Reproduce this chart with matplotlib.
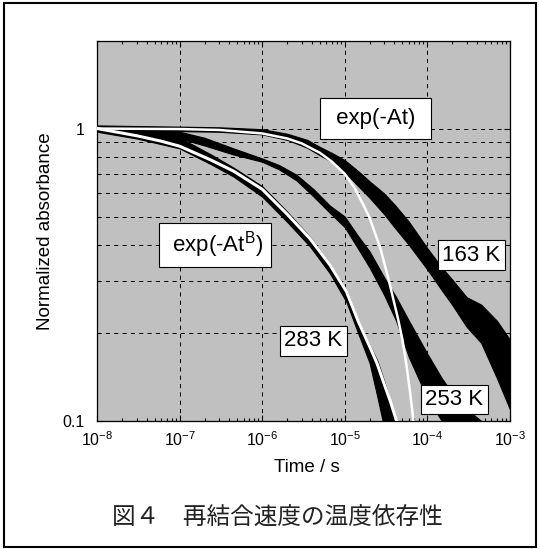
import matplotlib
matplotlib.use('Agg')
import matplotlib.pyplot as plt
from matplotlib.patches import Rectangle
from matplotlib.ticker import NullFormatter, LogLocator

plt.rcParams['font.family'] = ['Liberation Sans', 'DejaVu Sans']
plt.rcParams['mathtext.fontset'] = 'custom'
plt.rcParams['mathtext.rm'] = 'Liberation Sans'
plt.rcParams['mathtext.it'] = 'Liberation Sans:italic'
plt.rcParams['mathtext.default'] = 'regular'
plt.rcParams['axes.unicode_minus'] = False
plt.rcParams['lines.scale_dashes'] = False

t163 = [1e-8, 3e-8, 1e-7, 3e-7, 1e-6, 2e-6, 3.5e-6, 5e-6, 7e-6, 1e-5, 1.5e-5, 2e-5,
        3e-5, 4e-5, 6e-5, 1e-4, 1.5e-4, 2e-4, 3e-4, 4.5e-4, 7e-4, 1e-3]
lo163 = [0.985, 0.985, 0.98, 0.975, 0.955, 0.915, 0.86, 0.81, 0.77, 0.71, 0.63, 0.58,
         0.51, 0.46, 0.40, 0.33, 0.28, 0.25, 0.21, 0.185, 0.14, 0.11]
hi163 = [1.025, 1.02, 1.015, 1.01, 0.995, 0.96, 0.915, 0.865, 0.825, 0.78, 0.71, 0.66,
         0.60, 0.55, 0.48, 0.39, 0.335, 0.305, 0.265, 0.25, 0.22, 0.19]

t253 = [1e-8, 3e-8, 1e-7, 2e-7, 4.5e-7, 1e-6, 1.6e-6, 2.6e-6, 4.2e-6, 6.6e-6, 1e-5,
        1.4e-5, 2e-5, 3e-5, 4.2e-5, 6e-5, 1e-4, 1.5e-4, 2e-4, 3e-4, 4.5e-4]
lo253 = [0.985, 0.965, 0.925, 0.875, 0.815, 0.77, 0.725, 0.665, 0.585, 0.515, 0.46,
         0.395, 0.335, 0.27, 0.22, 0.165, 0.12, 0.10, 0.085, 0.08, 0.08]
hi253 = [1.015, 1.0, 0.975, 0.93, 0.855, 0.79, 0.75, 0.695, 0.62, 0.545, 0.50,
         0.435, 0.38, 0.31, 0.265, 0.22, 0.17, 0.14, 0.125, 0.11, 0.10]

t283 = [1e-8, 3e-8, 1e-7, 2.4e-7, 4.5e-7, 1e-6, 2e-6, 3.8e-6, 6.6e-6, 1.05e-5,
        1.45e-5, 2e-5, 2.5e-5, 3e-5, 3.6e-5, 4.3e-5]
lo283 = [0.975, 0.925, 0.855, 0.755, 0.685, 0.585, 0.48, 0.395, 0.32, 0.255,
         0.20, 0.158, 0.12, 0.095, 0.08, 0.08]
hi283 = [1.015, 0.985, 0.93, 0.815, 0.735, 0.635, 0.52, 0.425, 0.345, 0.28,
         0.222, 0.182, 0.16, 0.137, 0.116, 0.10]

# white fit curves
t_exp = [1e-8, 1e-7, 3e-7, 1e-6, 2e-6, 3e-6, 5e-6, 7e-6, 1e-5, 1.3e-5, 1.7e-5, 2e-5,
         2.7e-5, 3.4e-5, 4.4e-5, 5e-5, 5.6e-5, 6.2e-5, 6.8e-5]
y_exp = [1.0, 0.996, 0.989, 0.962, 0.925, 0.89, 0.826, 0.77, 0.70, 0.63, 0.545, 0.495,
         0.39, 0.305, 0.225, 0.19, 0.155, 0.125, 0.10]

t_str = [1e-8, 3e-8, 6e-8, 1e-7, 2.4e-7, 4.5e-7, 1e-6, 2e-6, 3.8e-6, 6.6e-6, 1.05e-5,
         1.45e-5, 2e-5, 2.45e-5, 3e-5, 3.6e-5, 4.25e-5]
y_str = [1.0, 0.945, 0.905, 0.87, 0.78, 0.715, 0.62, 0.51, 0.42, 0.342, 0.277,
         0.22, 0.18, 0.158, 0.134, 0.116, 0.10]

xticks = [1e-8, 1e-7, 1e-6, 1e-5, 1e-4, 1e-3]
xlabels = ['10$^{%d}$' % e for e in range(-8, -2)]
yticks = [0.1, 1]
ylabels = ['0.1', '1']

fig = plt.figure(figsize=(5.4, 5.49), dpi=100)
ax = fig.add_axes([0.180, 0.2332, 0.764, 0.693])
ax.set_facecolor('#c0c0c0')
ax.set_axisbelow(True)

for t, lo, hi in [(t163, lo163, hi163), (t253, lo253, hi253), (t283, lo283, hi283)]:
    ax.fill_between(t, lo, hi, facecolor='k', edgecolor='k', lw=0.8, zorder=2)

ax.plot(t_exp, y_exp, color='white', lw=1.8, zorder=3)
ax.plot(t_str, y_str, color='white', lw=2.2, zorder=3)

ax.set_xscale('log')
ax.set_yscale('log')
ax.set_xlim(1e-8, 1e-3)
ax.set_ylim(0.1, 2)
ax.set_xticks(xticks, xlabels)
ax.set_yticks(yticks, ylabels)
ax.yaxis.set_minor_locator(LogLocator(base=10, subs=range(2, 10)))
ax.yaxis.set_minor_formatter(NullFormatter())
ax.xaxis.set_minor_formatter(NullFormatter())

ax.grid(True, which='major', axis='x', color='k', lw=0.7, ls=(0, (3, 3)))
ax.grid(True, which='both', axis='y', color='k', lw=0.7, ls=(0, (3, 3)))

ax.tick_params(which='both', direction='in', top=True, right=True, width=0.8)
ax.tick_params(which='major', length=4)
ax.tick_params(which='minor', length=2.5)
ax.tick_params(axis='x', labelsize=11.5, pad=7)
ax.tick_params(axis='y', labelsize=11.5, pad=9)
for s in ax.spines.values():
    s.set_linewidth(0.9)

ax.set_xlabel('Time / s', fontsize=13.5)
ax.set_ylabel('Normalized absorbance', fontsize=13.5)
ax.xaxis.set_label_coords(0.508, -0.1)
ax.yaxis.set_label_coords(-0.105, 0.5)

box = dict(boxstyle='square,pad=0.43', fc='white', ec='k', lw=0.8)
box2 = dict(boxstyle='square,pad=0.2', fc='white', ec='k', lw=0.8)
ax.text(0.675, 0.795, ' exp(-At) ', transform=ax.transAxes, fontsize=16,
        ha='center', va='center', bbox=box, zorder=5)
ax.text(0.286, 0.463, ' exp(-At$^{B}$) ', transform=ax.transAxes, fontsize=16,
        ha='center', va='center', bbox=dict(boxstyle='square,pad=0.3', fc='white', ec='k', lw=0.8), zorder=5)
ax.text(0.907, 0.436, '163 K', transform=ax.transAxes, fontsize=16,
        ha='center', va='center', bbox=box2, zorder=5)
ax.text(0.524, 0.211, '283 K', transform=ax.transAxes, fontsize=16,
        ha='center', va='center', bbox=box2, zorder=5)
ax.text(0.866, 0.0565, '253 K', transform=ax.transAxes, fontsize=16,
        ha='center', va='center', bbox=box2, zorder=5)

fig.text(0.513, 0.0574, '図４\u3000再結合速度の温度依存性', fontsize=17,
         family=['Noto Sans CJK JP', 'DejaVu Sans'], ha='center', va='center',
         color='#222222')

fig.patches.append(Rectangle((0.0065, 0.0036), 0.986, 0.9918, transform=fig.transFigure,
                             fill=False, ec='k', lw=1.5))

fig.savefig('out.png', dpi=100)
